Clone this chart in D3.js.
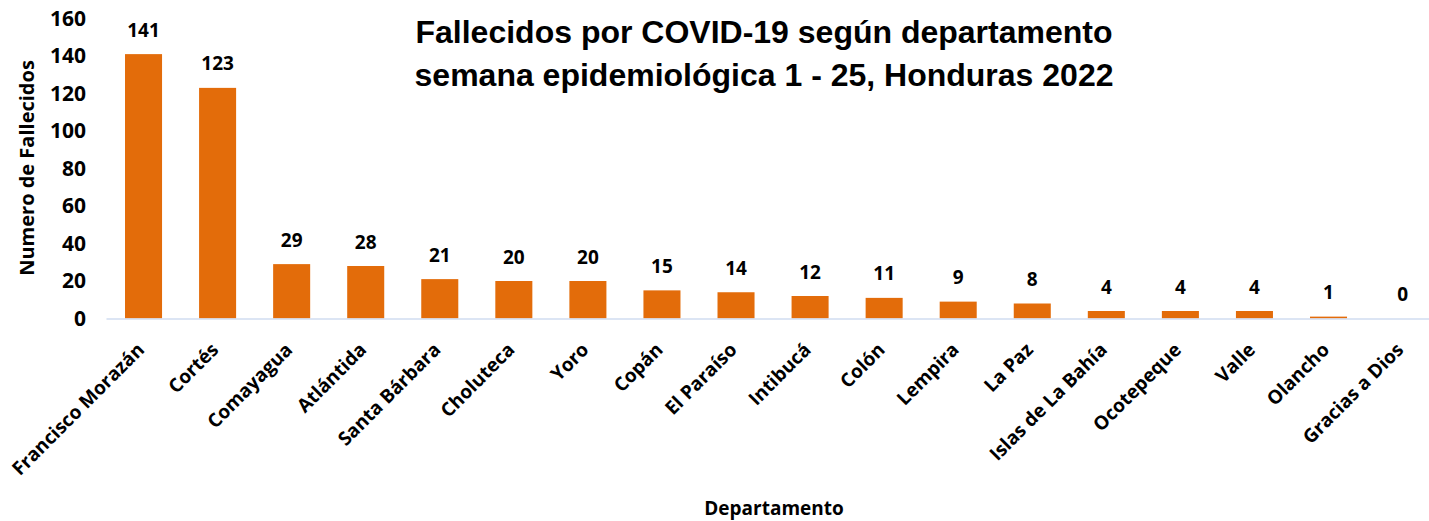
<!DOCTYPE html>
<html><head><meta charset="utf-8">
<script src="https://cdn.jsdelivr.net/npm/d3@7"></script>
<style>body{margin:0;background:#fff}svg{display:block}</style>
</head><body>
<script>
const categories = ["Francisco Morazán","Cortés","Comayagua","Atlántida","Santa Bárbara","Choluteca","Yoro","Copán","El Paraíso","Intibucá","Colón","Lempira","La Paz","Islas de La Bahía","Ocotepeque","Valle","Olancho","Gracias a Dios"];
const values = [141,123,29,28,21,20,20,15,14,12,11,9,8,4,4,4,1,0];
const yTicks = [0,20,40,60,80,100,120,140,160];
const titleLines = ["Fallecidos por COVID-19 según departamento","semana epidemiológica 1 - 25, Honduras 2022"];

const W=1429,H=521;
const svg=d3.select("body").append("svg").attr("width",W).attr("height",H);
const x=d3.scaleBand().domain(categories).range([106.5,1439.6]).paddingInner(0.5).paddingOuter(0.25);
const y=d3.scaleLinear().domain([0,160]).range([318.5,18.5]);
const font="'Open Sans', sans-serif";

// bars
svg.selectAll("rect.bar").data(values).join("rect").attr("class","bar")
  .attr("x",(d,i)=>x(categories[i])).attr("width",x.bandwidth())
  .attr("y",d=>y(d)).attr("height",d=>y(0)-y(d)).attr("fill","#E36C0A");

// axis line
svg.append("line").attr("x1",106.5).attr("x2",W).attr("y1",y(0)+0.5).attr("y2",y(0)+0.5)
  .attr("stroke","#D0DCF0").attr("stroke-width",1.5);

// y axis
const yAxis=d3.axisLeft(y).tickValues(yTicks).tickSize(0).tickPadding(0);
const gy=svg.append("g").attr("transform","translate(86,0)").call(yAxis);
gy.select(".domain").remove();
gy.selectAll("text").attr("font-family",font).attr("font-weight","bold").attr("font-size",21).attr("fill","#000");

// value labels
svg.selectAll("text.val").data(values).join("text").attr("class","val")
  .attr("x",(d,i)=>x(categories[i])+x.bandwidth()/2).attr("y",d=>y(d)-17.5)
  .attr("text-anchor","middle").attr("font-family",font).attr("font-weight","bold").attr("font-size",19).text(d=>d);

// x labels
const xAxis=d3.axisBottom(x).tickSize(0).tickPadding(0);
const gx=svg.append("g").call(xAxis);
gx.select(".domain").remove();
gx.selectAll(".tick").attr("transform",null);
gx.selectAll("text")
  .attr("font-family",font).attr("font-weight","bold").attr("font-size",19).attr("fill","#000")
  .attr("text-anchor","end").attr("dy",0).attr("y",0)
  .attr("transform",d=>`translate(${x(d)+x.bandwidth()/2+2},${351}) rotate(-45)`);

// y title
svg.append("text").attr("transform","translate(34,168) rotate(-90)").attr("text-anchor","middle")
  .attr("font-family",font).attr("font-weight","bold").attr("font-size",20).text("Numero de Fallecidos");
// x title
svg.append("text").attr("x",774).attr("y",515).attr("text-anchor","middle")
  .attr("font-family",font).attr("font-weight","bold").attr("font-size",19).text("Departamento");

// title
svg.selectAll("text.title").data(titleLines).join("text").attr("class","title")
  .attr("x",764).attr("y",(d,i)=>43+i*43).attr("text-anchor","middle")
  .attr("font-family","'Liberation Sans', Arial, sans-serif").attr("font-weight","bold").attr("font-size",32).text(d=>d);
</script>
</body></html>
